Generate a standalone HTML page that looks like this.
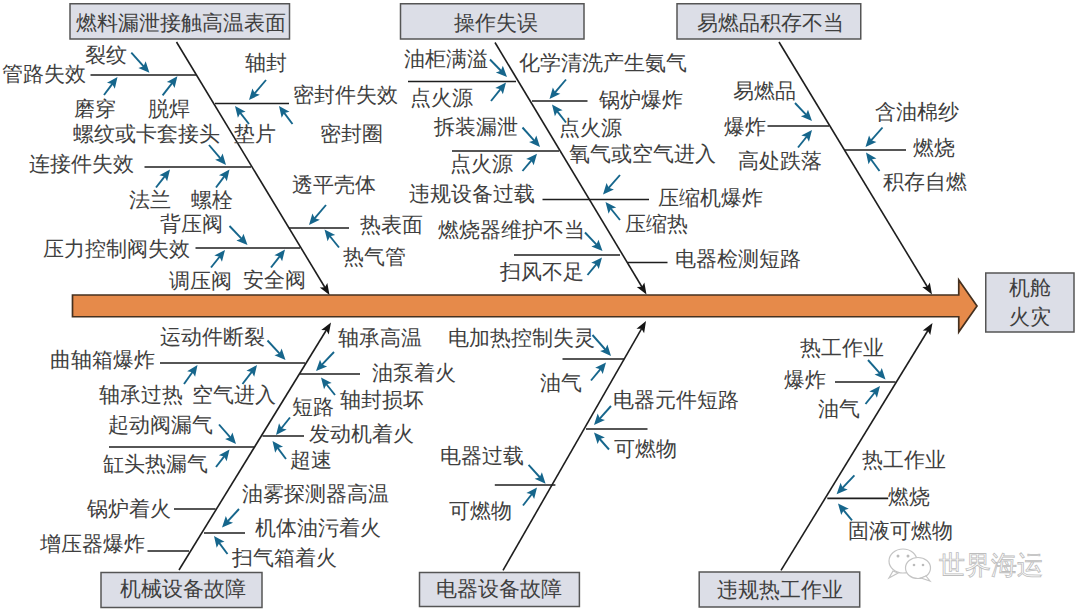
<!DOCTYPE html><html><head><meta charset="utf-8"><style>html,body{margin:0;padding:0;background:#fff;width:1080px;height:613px;overflow:hidden}svg{display:block}svg text{font-family:"Liberation Serif",serif}</style></head><body>
<svg width="1080" height="613" viewBox="0 0 1080 613" font-family="Liberation Serif, serif">
<path d="M72.5 295 L958.75 295 L958.75 280 L977 306 L958.75 332 L958.75 316.75 L72.5 316.75 Z" fill="#e68a4a" stroke="#45301f" stroke-width="1.7" stroke-linejoin="miter"/>
<rect x="70" y="3.75" width="219.5" height="35.25" fill="#dcdee7" stroke="#555" stroke-width="1.5"/>
<text x="181.25" y="30.3" text-anchor="middle" font-size="20.5" fill="#3f3f3f">燃料漏泄接触高温表面</text>
<rect x="400.5" y="3.75" width="183.5" height="35.25" fill="#dcdee7" stroke="#555" stroke-width="1.5"/>
<text x="495.75" y="30.3" text-anchor="middle" font-size="20.5" fill="#3f3f3f">操作失误</text>
<rect x="677" y="3.75" width="183.75" height="35.25" fill="#dcdee7" stroke="#555" stroke-width="1.5"/>
<text x="770.62" y="30.3" text-anchor="middle" font-size="20.5" fill="#3f3f3f">易燃品积存不当</text>
<rect x="985.75" y="273" width="88.25" height="59" fill="#dcdee7" stroke="#555" stroke-width="1.5"/>
<text x="1029.88" y="295.3" text-anchor="middle" font-size="20.5" fill="#3f3f3f">机舱</text>
<text x="1029.88" y="323.8" text-anchor="middle" font-size="20.5" fill="#3f3f3f">火灾</text>
<rect x="101" y="572.5" width="161" height="35" fill="#dcdee7" stroke="#555" stroke-width="1.5"/>
<text x="183" y="596.3" text-anchor="middle" font-size="20.5" fill="#3f3f3f">机械设备故障</text>
<rect x="419.5" y="572.5" width="159.9" height="34" fill="#dcdee7" stroke="#555" stroke-width="1.5"/>
<text x="499.45" y="595.8" text-anchor="middle" font-size="20.5" fill="#3f3f3f">电器设备故障</text>
<rect x="699.2" y="572" width="160.5" height="35" fill="#dcdee7" stroke="#555" stroke-width="1.5"/>
<text x="780.45" y="597.3" text-anchor="middle" font-size="20.5" fill="#3f3f3f">违规热工作业</text>
<line x1="176.5" y1="42" x2="325.1" y2="287.73" stroke="#1e1e1e" stroke-width="1.6"/>
<path d="M329.5 295 L319.78 287.44 L324.86 287.32 L327.31 282.88 Z" fill="#151515"/>
<line x1="495" y1="42.5" x2="642.12" y2="287.22" stroke="#1e1e1e" stroke-width="1.6"/>
<path d="M646.5 294.5 L636.8 286.91 L641.88 286.81 L644.35 282.38 Z" fill="#151515"/>
<line x1="779" y1="42" x2="927.6" y2="287.23" stroke="#1e1e1e" stroke-width="1.6"/>
<path d="M932 294.5 L922.28 286.94 L927.35 286.83 L929.8 282.38 Z" fill="#151515"/>
<line x1="179" y1="570" x2="326.55" y2="329.74" stroke="#1e1e1e" stroke-width="1.6"/>
<path d="M331 322.5 L328.73 334.6 L326.31 330.14 L321.23 330 Z" fill="#151515"/>
<line x1="503" y1="570.4" x2="641.77" y2="328.37" stroke="#1e1e1e" stroke-width="1.6"/>
<path d="M646 321 L644.1 333.17 L641.54 328.78 L636.46 328.79 Z" fill="#151515"/>
<line x1="781" y1="570.4" x2="928.06" y2="330.25" stroke="#1e1e1e" stroke-width="1.6"/>
<path d="M932.5 323 L930.25 335.11 L927.82 330.65 L922.74 330.51 Z" fill="#151515"/>
<line x1="90.5" y1="75" x2="196" y2="75" stroke="#1e1e1e" stroke-width="1.7"/>
<line x1="215" y1="103.5" x2="289" y2="103.5" stroke="#1e1e1e" stroke-width="1.7"/>
<line x1="144.5" y1="167" x2="251" y2="167" stroke="#1e1e1e" stroke-width="1.7"/>
<line x1="289" y1="228" x2="349" y2="228" stroke="#1e1e1e" stroke-width="1.7"/>
<line x1="195.5" y1="248" x2="300" y2="248" stroke="#1e1e1e" stroke-width="1.7"/>
<line x1="408" y1="81.5" x2="516" y2="81.5" stroke="#1e1e1e" stroke-width="1.7"/>
<line x1="532" y1="101" x2="587.5" y2="101" stroke="#1e1e1e" stroke-width="1.7"/>
<line x1="452" y1="151" x2="559" y2="151" stroke="#1e1e1e" stroke-width="1.7"/>
<line x1="542.5" y1="199.5" x2="649" y2="199.5" stroke="#1e1e1e" stroke-width="1.7"/>
<line x1="514" y1="255" x2="620" y2="255" stroke="#1e1e1e" stroke-width="1.7"/>
<line x1="627.5" y1="262.5" x2="667.5" y2="262.5" stroke="#1e1e1e" stroke-width="1.7"/>
<line x1="767.5" y1="126" x2="829" y2="126" stroke="#1e1e1e" stroke-width="1.7"/>
<line x1="844.5" y1="150" x2="906" y2="150" stroke="#1e1e1e" stroke-width="1.7"/>
<line x1="160" y1="363" x2="305" y2="363" stroke="#1e1e1e" stroke-width="1.7"/>
<line x1="300" y1="374" x2="360" y2="374" stroke="#1e1e1e" stroke-width="1.7"/>
<line x1="262.5" y1="436" x2="304" y2="436" stroke="#1e1e1e" stroke-width="1.7"/>
<line x1="109" y1="447" x2="254" y2="447" stroke="#1e1e1e" stroke-width="1.7"/>
<line x1="174" y1="509" x2="215.5" y2="509" stroke="#1e1e1e" stroke-width="1.7"/>
<line x1="204" y1="533" x2="245" y2="533" stroke="#1e1e1e" stroke-width="1.7"/>
<line x1="147.5" y1="551" x2="189" y2="551" stroke="#1e1e1e" stroke-width="1.7"/>
<line x1="562.5" y1="359" x2="624" y2="359" stroke="#1e1e1e" stroke-width="1.7"/>
<line x1="586" y1="429" x2="647.5" y2="429" stroke="#1e1e1e" stroke-width="1.7"/>
<line x1="494.8" y1="485" x2="555.4" y2="485" stroke="#1e1e1e" stroke-width="1.7"/>
<line x1="835" y1="382" x2="895.5" y2="382" stroke="#1e1e1e" stroke-width="1.7"/>
<line x1="827.3" y1="498.4" x2="888.2" y2="498.4" stroke="#1e1e1e" stroke-width="1.7"/>
<line x1="131.3" y1="52.7" x2="144.05" y2="66.86" stroke="#16668c" stroke-width="1.9"/>
<path d="M149.4 72.8 L138.4 67.9 L143.51 66.26 L145.68 61.35 Z" fill="#16668c"/>
<line x1="104" y1="95" x2="112.7" y2="83.4" stroke="#16668c" stroke-width="1.9"/>
<path d="M117.5 77 L114.82 88.74 L112.22 84.04 L106.98 82.86 Z" fill="#16668c"/>
<line x1="162.6" y1="95.4" x2="172.5" y2="82.62" stroke="#16668c" stroke-width="1.9"/>
<path d="M177.4 76.3 L174.54 88 L172.01 83.26 L166.79 81.99 Z" fill="#16668c"/>
<line x1="266" y1="80" x2="254.18" y2="93.9" stroke="#16668c" stroke-width="1.9"/>
<path d="M249 100 L252.39 88.45 L254.7 93.29 L259.86 94.79 Z" fill="#16668c"/>
<line x1="249" y1="124" x2="239.91" y2="112.31" stroke="#16668c" stroke-width="1.9"/>
<path d="M235 106 L245.62 111.67 L240.4 112.95 L237.89 117.69 Z" fill="#16668c"/>
<line x1="292.5" y1="124" x2="283.8" y2="112.4" stroke="#16668c" stroke-width="1.9"/>
<path d="M279 106 L289.52 111.86 L284.28 113.04 L281.68 117.74 Z" fill="#16668c"/>
<line x1="209" y1="145" x2="220.82" y2="158.9" stroke="#16668c" stroke-width="1.9"/>
<path d="M226 165 L215.14 159.79 L220.3 158.29 L222.61 153.45 Z" fill="#16668c"/>
<line x1="156" y1="187.5" x2="165.09" y2="175.81" stroke="#16668c" stroke-width="1.9"/>
<path d="M170 169.5 L167.11 181.19 L164.6 176.45 L159.38 175.17 Z" fill="#16668c"/>
<line x1="216" y1="187.5" x2="224.7" y2="175.9" stroke="#16668c" stroke-width="1.9"/>
<path d="M229.5 169.5 L226.82 181.24 L224.22 176.54 L218.98 175.36 Z" fill="#16668c"/>
<line x1="326" y1="205" x2="314.18" y2="218.9" stroke="#16668c" stroke-width="1.9"/>
<path d="M309 225 L312.39 213.45 L314.7 218.29 L319.86 219.79 Z" fill="#16668c"/>
<line x1="339" y1="247.5" x2="329.52" y2="235.73" stroke="#16668c" stroke-width="1.9"/>
<path d="M324.5 229.5 L335.22 234.99 L330.02 236.35 L327.58 241.14 Z" fill="#16668c"/>
<line x1="229.5" y1="226" x2="242" y2="239.19" stroke="#16668c" stroke-width="1.9"/>
<path d="M247.5 245 L236.38 240.38 L241.45 238.61 L243.49 233.64 Z" fill="#16668c"/>
<line x1="211" y1="267.5" x2="220" y2="256.25" stroke="#16668c" stroke-width="1.9"/>
<path d="M225 250 L221.95 261.65 L219.5 256.87 L214.3 255.53 Z" fill="#16668c"/>
<line x1="271" y1="267.5" x2="280.09" y2="255.81" stroke="#16668c" stroke-width="1.9"/>
<path d="M285 249.5 L282.11 261.19 L279.6 256.45 L274.38 255.17 Z" fill="#16668c"/>
<line x1="490" y1="59.5" x2="501.43" y2="71.26" stroke="#16668c" stroke-width="1.9"/>
<path d="M507 77 L495.82 72.52 L500.87 70.69 L502.85 65.7 Z" fill="#16668c"/>
<line x1="491" y1="101" x2="500.96" y2="88.71" stroke="#16668c" stroke-width="1.9"/>
<path d="M506 82.5 L502.88 94.13 L500.46 89.34 L495.27 87.96 Z" fill="#16668c"/>
<line x1="566" y1="79.5" x2="554.67" y2="92.89" stroke="#16668c" stroke-width="1.9"/>
<path d="M549.5 99 L552.86 87.44 L555.18 92.28 L560.35 93.77 Z" fill="#16668c"/>
<line x1="566" y1="122.5" x2="556.91" y2="110.81" stroke="#16668c" stroke-width="1.9"/>
<path d="M552 104.5 L562.62 110.17 L557.4 111.45 L554.89 116.19 Z" fill="#16668c"/>
<line x1="522.5" y1="127.5" x2="534.66" y2="141.05" stroke="#16668c" stroke-width="1.9"/>
<path d="M540 147 L529.01 142.09 L534.12 140.45 L536.3 135.54 Z" fill="#16668c"/>
<line x1="522.5" y1="171" x2="531.85" y2="159.87" stroke="#16668c" stroke-width="1.9"/>
<path d="M537 153.75 L533.67 165.32 L531.34 160.49 L526.17 159.02 Z" fill="#16668c"/>
<line x1="620" y1="175" x2="608.26" y2="188.47" stroke="#16668c" stroke-width="1.9"/>
<path d="M603 194.5 L606.54 182.99 L608.78 187.87 L613.92 189.43 Z" fill="#16668c"/>
<line x1="620" y1="220" x2="610.52" y2="208.23" stroke="#16668c" stroke-width="1.9"/>
<path d="M605.5 202 L616.22 207.49 L611.02 208.85 L608.58 213.64 Z" fill="#16668c"/>
<line x1="585" y1="232.5" x2="597" y2="245.19" stroke="#16668c" stroke-width="1.9"/>
<path d="M602.5 251 L591.38 246.38 L596.45 244.61 L598.5 239.64 Z" fill="#16668c"/>
<line x1="587.5" y1="275" x2="596.9" y2="263.66" stroke="#16668c" stroke-width="1.9"/>
<path d="M602 257.5 L598.75 269.1 L596.39 264.28 L591.21 262.84 Z" fill="#16668c"/>
<line x1="795" y1="103" x2="806.51" y2="115.18" stroke="#16668c" stroke-width="1.9"/>
<path d="M812 121 L800.88 116.37 L805.96 114.6 L808.01 109.64 Z" fill="#16668c"/>
<line x1="798" y1="147.5" x2="807" y2="136.25" stroke="#16668c" stroke-width="1.9"/>
<path d="M812 130 L808.95 141.65 L806.5 136.87 L801.3 135.53 Z" fill="#16668c"/>
<line x1="882.5" y1="127.5" x2="870.76" y2="140.97" stroke="#16668c" stroke-width="1.9"/>
<path d="M865.5 147 L869.04 135.49 L871.28 140.37 L876.42 141.93 Z" fill="#16668c"/>
<line x1="879.5" y1="171" x2="870.72" y2="158.96" stroke="#16668c" stroke-width="1.9"/>
<path d="M866 152.5 L876.44 158.5 L871.19 159.61 L868.53 164.27 Z" fill="#16668c"/>
<line x1="267.5" y1="340.5" x2="280.07" y2="354.12" stroke="#16668c" stroke-width="1.9"/>
<path d="M285.5 360 L274.44 355.24 L279.53 353.53 L281.64 348.59 Z" fill="#16668c"/>
<line x1="184" y1="384" x2="192.87" y2="371.52" stroke="#16668c" stroke-width="1.9"/>
<path d="M197.5 365 L195.12 376.81 L192.4 372.17 L187.13 371.13 Z" fill="#16668c"/>
<line x1="242.5" y1="384" x2="252.15" y2="371.36" stroke="#16668c" stroke-width="1.9"/>
<path d="M257 365 L254.22 376.72 L251.66 372 L246.43 370.77 Z" fill="#16668c"/>
<line x1="334" y1="352" x2="321.5" y2="365.19" stroke="#16668c" stroke-width="1.9"/>
<path d="M316 371 L320.01 359.64 L322.05 364.61 L327.12 366.38 Z" fill="#16668c"/>
<line x1="335" y1="395" x2="326" y2="383.75" stroke="#16668c" stroke-width="1.9"/>
<path d="M321 377.5 L331.7 383.03 L326.5 384.37 L324.05 389.15 Z" fill="#16668c"/>
<line x1="290" y1="417.5" x2="281" y2="428.75" stroke="#16668c" stroke-width="1.9"/>
<path d="M276 435 L279.05 423.35 L281.5 428.13 L286.7 429.47 Z" fill="#16668c"/>
<line x1="286" y1="459" x2="277.3" y2="447.4" stroke="#16668c" stroke-width="1.9"/>
<path d="M272.5 441 L283.02 446.86 L277.78 448.04 L275.18 452.74 Z" fill="#16668c"/>
<line x1="219" y1="424.5" x2="230.74" y2="437.97" stroke="#16668c" stroke-width="1.9"/>
<path d="M236 444 L225.08 438.93 L230.22 437.37 L232.46 432.49 Z" fill="#16668c"/>
<line x1="216" y1="467" x2="224.61" y2="455.83" stroke="#16668c" stroke-width="1.9"/>
<path d="M229.5 449.5 L226.66 461.2 L224.12 456.47 L218.9 455.22 Z" fill="#16668c"/>
<line x1="239" y1="509" x2="227.41" y2="521.61" stroke="#16668c" stroke-width="1.9"/>
<path d="M222 527.5 L225.83 516.08 L227.95 521.02 L233.05 522.72 Z" fill="#16668c"/>
<line x1="227.5" y1="554" x2="218.8" y2="542.4" stroke="#16668c" stroke-width="1.9"/>
<path d="M214 536 L224.52 541.86 L219.28 543.04 L216.68 547.74 Z" fill="#16668c"/>
<line x1="592.5" y1="335" x2="605.71" y2="350" stroke="#16668c" stroke-width="1.9"/>
<path d="M611 356 L600.05 350.99 L605.18 349.4 L607.41 344.51 Z" fill="#16668c"/>
<line x1="591" y1="380.5" x2="600.88" y2="368.65" stroke="#16668c" stroke-width="1.9"/>
<path d="M606 362.5 L602.72 374.09 L600.37 369.26 L595.19 367.81 Z" fill="#16668c"/>
<line x1="611" y1="406" x2="599.33" y2="419.04" stroke="#16668c" stroke-width="1.9"/>
<path d="M594 425 L597.68 413.54 L599.87 418.44 L604.99 420.07 Z" fill="#16668c"/>
<line x1="609" y1="449.5" x2="599.29" y2="438.5" stroke="#16668c" stroke-width="1.9"/>
<path d="M594 432.5 L604.95 437.51 L599.82 439.1 L597.6 443.99 Z" fill="#16668c"/>
<line x1="528.6" y1="464.8" x2="540.25" y2="477.75" stroke="#16668c" stroke-width="1.9"/>
<path d="M545.6 483.7 L534.6 478.8 L539.72 477.16 L541.89 472.24 Z" fill="#16668c"/>
<line x1="523" y1="505.5" x2="532.11" y2="493.73" stroke="#16668c" stroke-width="1.9"/>
<path d="M537 487.4 L534.15 499.1 L531.62 494.36 L526.39 493.1 Z" fill="#16668c"/>
<line x1="868" y1="360" x2="880.16" y2="373.55" stroke="#16668c" stroke-width="1.9"/>
<path d="M885.5 379.5 L874.51 374.59 L879.62 372.95 L881.8 368.04 Z" fill="#16668c"/>
<line x1="865.5" y1="404" x2="874.98" y2="392.23" stroke="#16668c" stroke-width="1.9"/>
<path d="M880 386 L876.92 397.64 L874.48 392.85 L869.28 391.49 Z" fill="#16668c"/>
<line x1="854.4" y1="475.3" x2="842.08" y2="488.38" stroke="#16668c" stroke-width="1.9"/>
<path d="M836.6 494.2 L840.57 482.83 L842.63 487.79 L847.71 489.55 Z" fill="#16668c"/>
<line x1="852" y1="520.4" x2="843.1" y2="509.66" stroke="#16668c" stroke-width="1.9"/>
<path d="M838 503.5 L848.79 508.85 L843.61 510.28 L841.24 515.1 Z" fill="#16668c"/>
<text x="1.5" y="81.3" font-size="20.5" fill="#3f3f3f">管路失效</text>
<text x="85" y="62.3" font-size="20.5" fill="#3f3f3f">裂纹</text>
<text x="74" y="116.3" font-size="20.5" fill="#3f3f3f">磨穿</text>
<text x="148" y="116.3" font-size="20.5" fill="#3f3f3f">脱焊</text>
<text x="73" y="141.3" font-size="20.5" fill="#3f3f3f">螺纹或卡套接头</text>
<text x="245" y="70.3" font-size="20.5" fill="#3f3f3f">轴封</text>
<text x="293" y="102.3" font-size="20.5" fill="#3f3f3f">密封件失效</text>
<text x="234" y="141.3" font-size="20.5" fill="#3f3f3f">垫片</text>
<text x="320" y="141.3" font-size="20.5" fill="#3f3f3f">密封圈</text>
<text x="29" y="171.3" font-size="20.5" fill="#3f3f3f">连接件失效</text>
<text x="129" y="207.3" font-size="20.5" fill="#3f3f3f">法兰</text>
<text x="191" y="207.3" font-size="20.5" fill="#3f3f3f">螺栓</text>
<text x="291.5" y="192.3" font-size="20.5" fill="#3f3f3f">透平壳体</text>
<text x="160" y="231.3" font-size="20.5" fill="#3f3f3f">背压阀</text>
<text x="360" y="232.3" font-size="20.5" fill="#3f3f3f">热表面</text>
<text x="43" y="256.3" font-size="20.5" fill="#3f3f3f">压力控制阀失效</text>
<text x="343" y="263.8" font-size="20.5" fill="#3f3f3f">热气管</text>
<text x="169" y="288.3" font-size="20.5" fill="#3f3f3f">调压阀</text>
<text x="243" y="287.3" font-size="20.5" fill="#3f3f3f">安全阀</text>
<text x="404" y="66.3" font-size="20.5" fill="#3f3f3f">油柜满溢</text>
<text x="519" y="70.3" font-size="20.5" fill="#3f3f3f">化学清洗产生氨气</text>
<text x="410" y="105.3" font-size="20.5" fill="#3f3f3f">点火源</text>
<text x="599" y="107.3" font-size="20.5" fill="#3f3f3f">锅炉爆炸</text>
<text x="434" y="133.8" font-size="20.5" fill="#3f3f3f">拆装漏泄</text>
<text x="559" y="135.3" font-size="20.5" fill="#3f3f3f">点火源</text>
<text x="569" y="161.3" font-size="20.5" fill="#3f3f3f">氧气或空气进入</text>
<text x="450" y="171.3" font-size="20.5" fill="#3f3f3f">点火源</text>
<text x="408.5" y="201.3" font-size="20.5" fill="#3f3f3f">违规设备过载</text>
<text x="658" y="205.3" font-size="20.5" fill="#3f3f3f">压缩机爆炸</text>
<text x="625" y="231.3" font-size="20.5" fill="#3f3f3f">压缩热</text>
<text x="438" y="237.3" font-size="20.5" fill="#3f3f3f">燃烧器维护不当</text>
<text x="675" y="266.3" font-size="20.5" fill="#3f3f3f">电器检测短路</text>
<text x="500" y="278.8" font-size="20.5" fill="#3f3f3f">扫风不足</text>
<text x="733" y="98.3" font-size="20.5" fill="#3f3f3f">易燃品</text>
<text x="875" y="118.8" font-size="20.5" fill="#3f3f3f">含油棉纱</text>
<text x="724" y="133.8" font-size="20.5" fill="#3f3f3f">爆炸</text>
<text x="913" y="155.3" font-size="20.5" fill="#3f3f3f">燃烧</text>
<text x="738" y="167.8" font-size="20.5" fill="#3f3f3f">高处跌落</text>
<text x="883" y="188.8" font-size="20.5" fill="#3f3f3f">积存自燃</text>
<text x="160" y="343.8" font-size="20.5" fill="#3f3f3f">运动件断裂</text>
<text x="338" y="345.3" font-size="20.5" fill="#3f3f3f">轴承高温</text>
<text x="50" y="367.3" font-size="20.5" fill="#3f3f3f">曲轴箱爆炸</text>
<text x="371.5" y="380.3" font-size="20.5" fill="#3f3f3f">油泵着火</text>
<text x="99" y="402.3" font-size="20.5" fill="#3f3f3f">轴承过热</text>
<text x="191.5" y="402.3" font-size="20.5" fill="#3f3f3f">空气进入</text>
<text x="340" y="407.3" font-size="20.5" fill="#3f3f3f">轴封损坏</text>
<text x="291.5" y="413.8" font-size="20.5" fill="#3f3f3f">短路</text>
<text x="108" y="432.3" font-size="20.5" fill="#3f3f3f">起动阀漏气</text>
<text x="309" y="441.3" font-size="20.5" fill="#3f3f3f">发动机着火</text>
<text x="290" y="467.3" font-size="20.5" fill="#3f3f3f">超速</text>
<text x="103" y="471.3" font-size="20.5" fill="#3f3f3f">缸头热漏气</text>
<text x="241.5" y="501.3" font-size="20.5" fill="#3f3f3f">油雾探测器高温</text>
<text x="86.5" y="516.3" font-size="20.5" fill="#3f3f3f">锅炉着火</text>
<text x="255" y="535.3" font-size="20.5" fill="#3f3f3f">机体油污着火</text>
<text x="40" y="551.3" font-size="20.5" fill="#3f3f3f">增压器爆炸</text>
<text x="231.5" y="565.3" font-size="20.5" fill="#3f3f3f">扫气箱着火</text>
<text x="448" y="345.3" font-size="20.5" fill="#3f3f3f">电加热控制失灵</text>
<text x="540" y="390.3" font-size="20.5" fill="#3f3f3f">油气</text>
<text x="613" y="407.3" font-size="20.5" fill="#3f3f3f">电器元件短路</text>
<text x="614" y="456.3" font-size="20.5" fill="#3f3f3f">可燃物</text>
<text x="440" y="463.3" font-size="20.5" fill="#3f3f3f">电器过载</text>
<text x="448.6" y="518.3" font-size="20.5" fill="#3f3f3f">可燃物</text>
<text x="800" y="355.3" font-size="20.5" fill="#3f3f3f">热工作业</text>
<text x="784" y="387.3" font-size="20.5" fill="#3f3f3f">爆炸</text>
<text x="818" y="416.3" font-size="20.5" fill="#3f3f3f">油气</text>
<text x="862.4" y="467.3" font-size="20.5" fill="#3f3f3f">热工作业</text>
<text x="887.8" y="504.1" font-size="20.5" fill="#3f3f3f">燃烧</text>
<text x="848.3" y="538.3" font-size="20.5" fill="#3f3f3f">固液可燃物</text>
<g fill="#fff" stroke="#c4c4c4" stroke-width="1.2"><ellipse cx="903" cy="561" rx="14" ry="12"/><path d="M893 571 L889 578 L898 573 Z"/><ellipse cx="918" cy="568" rx="12.5" ry="10.5"/><path d="M926 576 L930 581 L921 578 Z"/></g>
<g fill="#bbb"><circle cx="898" cy="556" r="1.5"/><circle cx="908" cy="556" r="1.5"/><circle cx="914" cy="565" r="1.3"/><circle cx="923" cy="565" r="1.3"/></g>
<text x="939" y="574" font-size="26" fill="#fff" stroke="#bdbdbd" stroke-width="0.8">世界海运</text>
</svg></body></html>
